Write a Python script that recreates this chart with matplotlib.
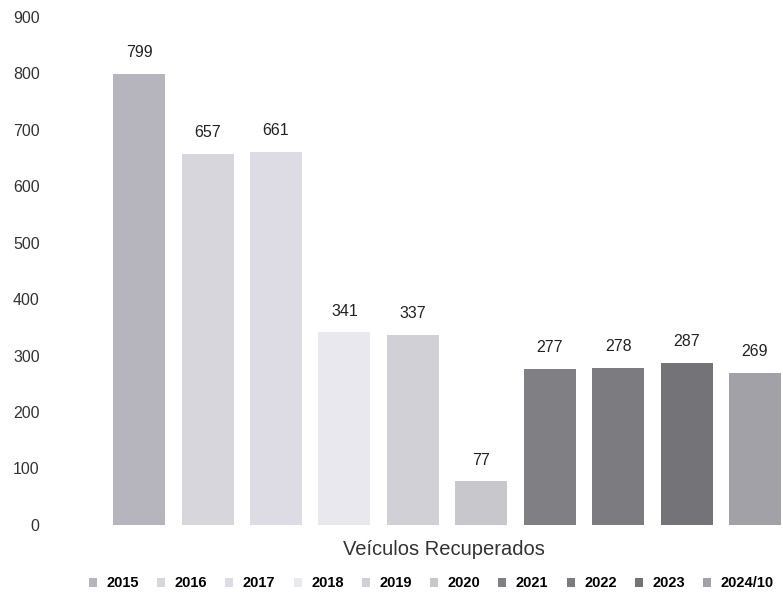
import matplotlib
matplotlib.use("Agg")
import matplotlib.pyplot as plt
from matplotlib.patches import Patch

years = ["2015", "2016", "2017", "2018", "2019", "2020", "2021", "2022", "2023", "2024/10"]
values = [799, 657, 661, 341, 337, 77, 277, 278, 287, 269]
colors = ["#b6b5bd", "#d7d6dd", "#dddce4", "#e9e8ee", "#d1d0d7", "#c7c7cc",
          "#7f7f84", "#7b7b80", "#737378", "#a2a1a7"]
xlabel = "Veículos Recuperados"
yticks = [0, 100, 200, 300, 400, 500, 600, 700, 800, 900]

plt.rcParams['font.family'] = ['Liberation Sans', 'DejaVu Sans']

fig = plt.figure(figsize=(7.83, 6.02), dpi=100)
ax = fig.add_axes([0.134, 0.128, 0.866, 0.844])

x = list(range(len(years)))
bars = ax.bar(x, values, width=0.76, color=colors)
for xi, v in zip(x, values):
    ax.annotate(str(v), (xi, v), xytext=(0, 10), textcoords="offset points",
                ha="center", va="bottom", fontsize=11.5, color="#222222")

ax.set_xlim(-0.5, 9.41)
ax.set_ylim(0, 900)
ax.set_yticks(yticks)
ax.set_xticks([])
for s in ax.spines.values():
    s.set_visible(False)
ax.tick_params(axis="y", length=0, labelsize=11.5, labelcolor="#333333", pad=47)
ax.set_xlabel(xlabel, fontsize=14.5, color="#333333", labelpad=11)

handles = [Patch(facecolor=c, edgecolor="none") for c in colors]
fig.legend(handles, years, loc="center", bbox_to_anchor=(0.551, 0.031), ncol=10,
           frameon=False, handlelength=0.55, handleheight=0.55, handletextpad=0.65,
           columnspacing=1.25, prop={"weight": "bold", "size": 10.5})

fig.savefig("out.png", dpi=100)
